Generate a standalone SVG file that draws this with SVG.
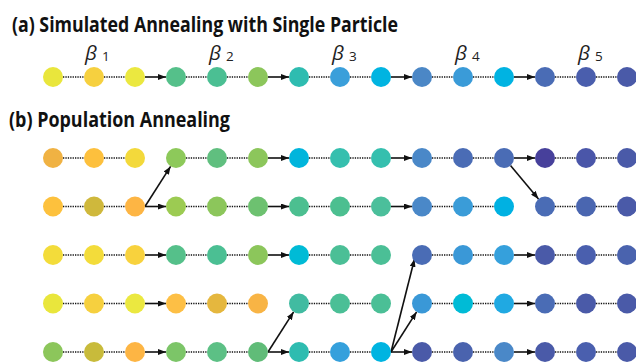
<svg xmlns="http://www.w3.org/2000/svg" width="636" height="363" viewBox="0 0 636 363">
<style>
.title{font-family:"Open Sans","Liberation Sans",sans-serif;font-weight:700;font-size:20.5px;fill:#111}
.beta{font-family:"Open Sans","DejaVu Sans",sans-serif;font-style:italic;font-weight:400;font-size:20.5px;fill:#222}
.sub{font-family:"Open Sans","DejaVu Sans",sans-serif;font-size:13.5px;fill:#222}
.dot{stroke:#111;stroke-width:1.7;stroke-dasharray:1.3 1.1;fill:none}
.arr{stroke:#111;stroke-width:1.6;fill:none;marker-end:url(#ah)}
</style>
<defs>
<marker id="ah" viewBox="0 0 8 6" markerWidth="8" markerHeight="6" markerUnits="userSpaceOnUse" refX="8" refY="3" orient="auto">
<path d="M0,0 L8,3 L0,6 z" fill="#111"/>
</marker>
</defs>
<text class="title" x="12" y="31.5" textLength="386" lengthAdjust="spacingAndGlyphs">(a) Simulated Annealing with Single Particle</text>
<text class="title" x="9" y="127" textLength="221" lengthAdjust="spacingAndGlyphs">(b) Population Annealing</text>
<g id="betas">
<text class="beta" x="85" y="59.5">β</text><text class="sub" x="102" y="61">1</text>
<text class="beta" x="209" y="59.5">β</text><text class="sub" x="226" y="61">2</text>
<text class="beta" x="332" y="59.5">β</text><text class="sub" x="349" y="61">3</text>
<text class="beta" x="455" y="59.5">β</text><text class="sub" x="472" y="61">4</text>
<text class="beta" x="578" y="59.5">β</text><text class="sub" x="595" y="61">5</text>
</g>
<g id="connectors">
<!-- row a y=77 -->
<line class="dot" x1="63" y1="77" x2="84" y2="77"/><line class="dot" x1="104" y1="77" x2="125" y2="77"/>
<line class="arr" x1="145" y1="77" x2="166" y2="77"/>
<line class="dot" x1="186" y1="77" x2="207" y2="77"/><line class="dot" x1="227" y1="77" x2="248" y2="77"/>
<line class="arr" x1="268" y1="77" x2="289" y2="77"/>
<line class="dot" x1="309" y1="77" x2="330" y2="77"/><line class="dot" x1="350" y1="77" x2="371" y2="77"/>
<line class="arr" x1="391" y1="77" x2="412" y2="77"/>
<line class="dot" x1="432" y1="77" x2="453" y2="77"/><line class="dot" x1="473" y1="77" x2="494" y2="77"/>
<line class="arr" x1="514" y1="77" x2="535" y2="77"/>
<line class="dot" x1="555" y1="77" x2="576" y2="77"/><line class="dot" x1="596" y1="77" x2="617" y2="77"/>
<!-- row b1 y=158 -->
<line class="dot" x1="63" y1="158" x2="84" y2="158"/><line class="dot" x1="104" y1="158" x2="125" y2="158"/>
<line class="dot" x1="186" y1="158" x2="207" y2="158"/><line class="dot" x1="227" y1="158" x2="248" y2="158"/>
<line class="arr" x1="268" y1="158" x2="289" y2="158"/>
<line class="dot" x1="309" y1="158" x2="330" y2="158"/><line class="dot" x1="350" y1="158" x2="371" y2="158"/>
<line class="arr" x1="391" y1="158" x2="412" y2="158"/>
<line class="dot" x1="432" y1="158" x2="453" y2="158"/><line class="dot" x1="473" y1="158" x2="494" y2="158"/>
<line class="arr" x1="514" y1="158" x2="535" y2="158"/>
<line class="dot" x1="555" y1="158" x2="576" y2="158"/><line class="dot" x1="596" y1="158" x2="617" y2="158"/>
<line class="arr" x1="510.5" y1="165.6" x2="538.5" y2="198.9"/>
<!-- row b2 y=206.5 -->
<line class="dot" x1="63" y1="206.5" x2="84" y2="206.5"/><line class="dot" x1="104" y1="206.5" x2="125" y2="206.5"/>
<line class="arr" x1="145" y1="206.5" x2="166" y2="206.5"/>
<line class="arr" x1="145" y1="206.5" x2="170.6" y2="166.4"/>
<line class="dot" x1="186" y1="206.5" x2="207" y2="206.5"/><line class="dot" x1="227" y1="206.5" x2="248" y2="206.5"/>
<line class="arr" x1="268" y1="206.5" x2="289" y2="206.5"/>
<line class="dot" x1="309" y1="206.5" x2="330" y2="206.5"/><line class="dot" x1="350" y1="206.5" x2="371" y2="206.5"/>
<line class="arr" x1="391" y1="206.5" x2="412" y2="206.5"/>
<line class="dot" x1="432" y1="206.5" x2="453" y2="206.5"/><line class="dot" x1="473" y1="206.5" x2="494" y2="206.5"/>
<line class="dot" x1="555" y1="206.5" x2="576" y2="206.5"/><line class="dot" x1="596" y1="206.5" x2="617" y2="206.5"/>
<!-- row b3 y=255 -->
<line class="dot" x1="63" y1="255" x2="84" y2="255"/><line class="dot" x1="104" y1="255" x2="125" y2="255"/>
<line class="arr" x1="145" y1="255" x2="166" y2="255"/>
<line class="dot" x1="186" y1="255" x2="207" y2="255"/><line class="dot" x1="227" y1="255" x2="248" y2="255"/>
<line class="arr" x1="268" y1="255" x2="289" y2="255"/>
<line class="dot" x1="309" y1="255" x2="330" y2="255"/><line class="dot" x1="350" y1="255" x2="371" y2="255"/>
<line class="dot" x1="432" y1="255" x2="453" y2="255"/><line class="dot" x1="473" y1="255" x2="494" y2="255"/>
<line class="arr" x1="514" y1="255" x2="535" y2="255"/>
<line class="dot" x1="555" y1="255" x2="576" y2="255"/><line class="dot" x1="596" y1="255" x2="617" y2="255"/>
<!-- row b4 y=303.5 -->
<line class="dot" x1="63" y1="303.5" x2="84" y2="303.5"/><line class="dot" x1="104" y1="303.5" x2="125" y2="303.5"/>
<line class="arr" x1="145" y1="303.5" x2="166" y2="303.5"/>
<line class="dot" x1="186" y1="303.5" x2="207" y2="303.5"/><line class="dot" x1="227" y1="303.5" x2="248" y2="303.5"/>
<line class="dot" x1="309" y1="303.5" x2="330" y2="303.5"/><line class="dot" x1="350" y1="303.5" x2="371" y2="303.5"/>
<line class="dot" x1="432" y1="303.5" x2="453" y2="303.5"/><line class="dot" x1="473" y1="303.5" x2="494" y2="303.5"/>
<line class="arr" x1="514" y1="303.5" x2="535" y2="303.5"/>
<line class="dot" x1="555" y1="303.5" x2="576" y2="303.5"/><line class="dot" x1="596" y1="303.5" x2="617" y2="303.5"/>
<!-- row b5 y=352 -->
<line class="dot" x1="63" y1="352" x2="84" y2="352"/><line class="dot" x1="104" y1="352" x2="125" y2="352"/>
<line class="arr" x1="145" y1="352" x2="166" y2="352"/>
<line class="dot" x1="186" y1="352" x2="207" y2="352"/><line class="dot" x1="227" y1="352" x2="248" y2="352"/>
<line class="arr" x1="268" y1="352" x2="289" y2="352"/>
<line class="arr" x1="268" y1="352" x2="293.6" y2="311.9"/>
<line class="dot" x1="309" y1="352" x2="330" y2="352"/><line class="dot" x1="350" y1="352" x2="371" y2="352"/>
<line class="arr" x1="391" y1="352" x2="412" y2="352"/>
<line class="arr" x1="391" y1="352" x2="416.6" y2="311.9"/>
<line class="arr" x1="391" y1="352" x2="414.5" y2="259"/>
<line class="dot" x1="432" y1="352" x2="453" y2="352"/><line class="dot" x1="473" y1="352" x2="494" y2="352"/>
<line class="arr" x1="514" y1="352" x2="535" y2="352"/>
<line class="dot" x1="555" y1="352" x2="576" y2="352"/><line class="dot" x1="596" y1="352" x2="617" y2="352"/>
</g>
<!-- row a nodes -->
<g id="a1"><circle cx="53" cy="77" r="10" fill="#e9e63c"/></g>
<g id="a2"><circle cx="94" cy="77" r="10" fill="#f6d03f"/></g>
<g id="a3"><circle cx="135" cy="77" r="10" fill="#ebe840"/></g>
<g id="a4"><circle cx="176" cy="77" r="10" fill="#55c08a"/></g>
<g id="a5"><circle cx="217" cy="77" r="10" fill="#4bbf93"/></g>
<g id="a6"><circle cx="258" cy="77" r="10" fill="#8cc65b"/></g>
<g id="a7"><circle cx="299" cy="77" r="10" fill="#2ebcb0"/></g>
<g id="a8"><circle cx="340" cy="77" r="10" fill="#3a9fda"/></g>
<g id="a9"><circle cx="381" cy="77" r="10" fill="#00b4e1"/></g>
<g id="a10"><circle cx="422" cy="77" r="10" fill="#4b87c6"/></g>
<g id="a11"><circle cx="463" cy="77" r="10" fill="#3a9bd8"/></g>
<g id="a12"><circle cx="504" cy="77" r="10" fill="#00b3e2"/></g>
<g id="a13"><circle cx="545" cy="77" r="10" fill="#4a6cb5"/></g>
<g id="a14"><circle cx="586" cy="77" r="10" fill="#4a5ead"/></g>
<g id="a15"><circle cx="627" cy="77" r="10" fill="#4a5aa8"/></g>
<!-- row b1 -->
<g id="b1-1"><circle cx="53" cy="158" r="10" fill="#f0b243"/></g>
<g id="b1-2"><circle cx="94" cy="158" r="10" fill="#fdc03d"/></g>
<g id="b1-3"><circle cx="135" cy="158" r="10" fill="#f3d93b"/></g>
<g id="b1-4"><circle cx="176" cy="158" r="10" fill="#8dc95a"/></g>
<g id="b1-5"><circle cx="217" cy="158" r="10" fill="#60bf7f"/></g>
<g id="b1-6"><circle cx="258" cy="158" r="10" fill="#8cc65b"/></g>
<g id="b1-7"><circle cx="299" cy="158" r="10" fill="#00b5dc"/></g>
<g id="b1-8"><circle cx="340" cy="158" r="10" fill="#35bfae"/></g>
<g id="b1-9"><circle cx="381" cy="158" r="10" fill="#35bfae"/></g>
<g id="b1-10"><circle cx="422" cy="158" r="10" fill="#4a88c8"/></g>
<g id="b1-11"><circle cx="463" cy="158" r="10" fill="#4a6cb5"/></g>
<g id="b1-12"><circle cx="504" cy="158" r="10" fill="#4a6cb5"/></g>
<g id="b1-13"><circle cx="545" cy="158" r="10" fill="#47409b"/></g>
<g id="b1-14"><circle cx="586" cy="158" r="10" fill="#4a56a9"/></g>
<g id="b1-15"><circle cx="627" cy="158" r="10" fill="#4a5aa8"/></g>
<!-- row b2 -->
<g id="b2-1"><circle cx="53" cy="206.5" r="10" fill="#fdc13d"/></g>
<g id="b2-2"><circle cx="94" cy="206.5" r="10" fill="#cfb83c"/></g>
<g id="b2-3"><circle cx="135" cy="206.5" r="10" fill="#fdb544"/></g>
<g id="b2-4"><circle cx="176" cy="206.5" r="10" fill="#9ccb52"/></g>
<g id="b2-5"><circle cx="217" cy="206.5" r="10" fill="#8cc65b"/></g>
<g id="b2-6"><circle cx="258" cy="206.5" r="10" fill="#6dc170"/></g>
<g id="b2-7"><circle cx="299" cy="206.5" r="10" fill="#4cbf90"/></g>
<g id="b2-8"><circle cx="340" cy="206.5" r="10" fill="#4cbf90"/></g>
<g id="b2-9"><circle cx="381" cy="206.5" r="10" fill="#4bbf9b"/></g>
<g id="b2-10"><circle cx="422" cy="206.5" r="10" fill="#4a88c8"/></g>
<g id="b2-11"><circle cx="463" cy="206.5" r="10" fill="#3a9cd8"/></g>
<g id="b2-12"><circle cx="504" cy="206.5" r="10" fill="#00b1e2"/></g>
<g id="b2-13"><circle cx="545" cy="206.5" r="10" fill="#4a6cb5"/></g>
<g id="b2-14"><circle cx="586" cy="206.5" r="10" fill="#4a66b0"/></g>
<g id="b2-15"><circle cx="627" cy="206.5" r="10" fill="#4a5aa8"/></g>
<!-- row b3 -->
<g id="b3-1"><circle cx="53" cy="255" r="10" fill="#f3dc3a"/></g>
<g id="b3-2"><circle cx="94" cy="255" r="10" fill="#f3dc3a"/></g>
<g id="b3-3"><circle cx="135" cy="255" r="10" fill="#f8d23d"/></g>
<g id="b3-4"><circle cx="176" cy="255" r="10" fill="#55c08a"/></g>
<g id="b3-5"><circle cx="217" cy="255" r="10" fill="#4bbf93"/></g>
<g id="b3-6"><circle cx="258" cy="255" r="10" fill="#8cc65b"/></g>
<g id="b3-7"><circle cx="299" cy="255" r="10" fill="#00bbd6"/></g>
<g id="b3-8"><circle cx="340" cy="255" r="10" fill="#4bbf96"/></g>
<g id="b3-9"><circle cx="381" cy="255" r="10" fill="#4bbf96"/></g>
<g id="b3-10"><circle cx="422" cy="255" r="10" fill="#4a6cb5"/></g>
<g id="b3-11"><circle cx="463" cy="255" r="10" fill="#3a98d7"/></g>
<g id="b3-12"><circle cx="504" cy="255" r="10" fill="#35a0dc"/></g>
<g id="b3-13"><circle cx="545" cy="255" r="10" fill="#4a5aa8"/></g>
<g id="b3-14"><circle cx="586" cy="255" r="10" fill="#4a5fae"/></g>
<g id="b3-15"><circle cx="627" cy="255" r="10" fill="#4a63ae"/></g>
<!-- row b4 -->
<g id="b4-1"><circle cx="53" cy="303.5" r="10" fill="#e9e63c"/></g>
<g id="b4-2"><circle cx="94" cy="303.5" r="10" fill="#f6d03f"/></g>
<g id="b4-3"><circle cx="135" cy="303.5" r="10" fill="#ebe840"/></g>
<g id="b4-4"><circle cx="176" cy="303.5" r="10" fill="#fdbf45"/></g>
<g id="b4-5"><circle cx="217" cy="303.5" r="10" fill="#e5b73e"/></g>
<g id="b4-6"><circle cx="258" cy="303.5" r="10" fill="#f8b445"/></g>
<g id="b4-7"><circle cx="299" cy="303.5" r="10" fill="#41bba1"/></g>
<g id="b4-8"><circle cx="340" cy="303.5" r="10" fill="#4bbf96"/></g>
<g id="b4-9"><circle cx="381" cy="303.5" r="10" fill="#4bbf96"/></g>
<g id="b4-10"><circle cx="422" cy="303.5" r="10" fill="#3a98d7"/></g>
<g id="b4-11"><circle cx="463" cy="303.5" r="10" fill="#00bbd6"/></g>
<g id="b4-12"><circle cx="504" cy="303.5" r="10" fill="#20a9e2"/></g>
<g id="b4-13"><circle cx="545" cy="303.5" r="10" fill="#4a6cb5"/></g>
<g id="b4-14"><circle cx="586" cy="303.5" r="10" fill="#4a5aa8"/></g>
<g id="b4-15"><circle cx="627" cy="303.5" r="10" fill="#4a5aa8"/></g>
<!-- row b5 -->
<g id="b5-1"><circle cx="53" cy="352" r="10" fill="#8cc65b"/></g>
<g id="b5-2"><circle cx="94" cy="352" r="10" fill="#c8bb3b"/></g>
<g id="b5-3"><circle cx="135" cy="352" r="10" fill="#fdb544"/></g>
<g id="b5-4"><circle cx="176" cy="352" r="10" fill="#7cc568"/></g>
<g id="b5-5"><circle cx="217" cy="352" r="10" fill="#5cc085"/></g>
<g id="b5-6"><circle cx="258" cy="352" r="10" fill="#60bc78"/></g>
<g id="b5-7"><circle cx="299" cy="352" r="10" fill="#2ebcb0"/></g>
<g id="b5-8"><circle cx="340" cy="352" r="10" fill="#35a0dc"/></g>
<g id="b5-9"><circle cx="381" cy="352" r="10" fill="#00b4e1"/></g>
<g id="b5-10"><circle cx="422" cy="352" r="10" fill="#4a5aa8"/></g>
<g id="b5-11"><circle cx="463" cy="352" r="10" fill="#4a63ae"/></g>
<g id="b5-12"><circle cx="504" cy="352" r="10" fill="#4a88c8"/></g>
<g id="b5-13"><circle cx="545" cy="352" r="10" fill="#4a5aa8"/></g>
<g id="b5-14"><circle cx="586" cy="352" r="10" fill="#4a5fae"/></g>
<g id="b5-15"><circle cx="627" cy="352" r="10" fill="#4a5aa8"/></g>
</svg>
